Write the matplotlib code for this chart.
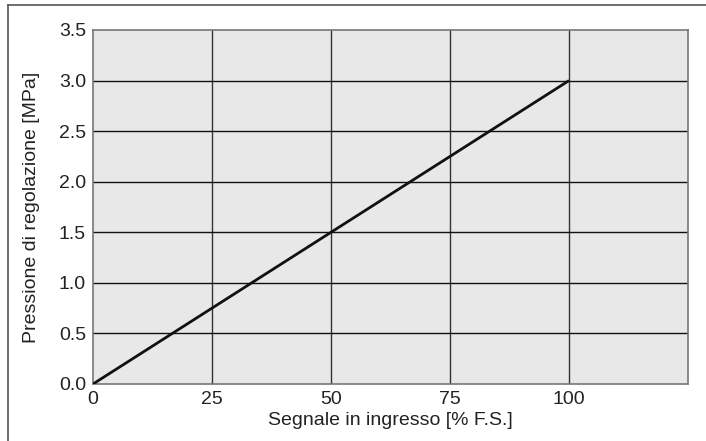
import matplotlib
matplotlib.use("Agg")
import matplotlib.pyplot as plt
from matplotlib.lines import Line2D

plt.rcParams['font.family'] = ['Liberation Sans', 'DejaVu Sans']

signal = [0, 100]
pressure = [0.0, 3.0]
x_ticks = [0, 25, 50, 75, 100]
y_ticks = [0.0, 0.5, 1.0, 1.5, 2.0, 2.5, 3.0, 3.5]
x_label = "Segnale in ingresso [% F.S.]"
y_label = "Pressione di regolazione [MPa]"

fig = plt.figure(figsize=(7.06, 4.41), dpi=100)
ax = fig.add_axes([93/706, 57/441, (688-93)/706, (384-30)/441])
ax.set_facecolor('#e8e8e8')
ax.set_xlim(0, 125)
ax.set_ylim(0, 3.5)
ax.set_xticks(x_ticks)
ax.set_yticks(y_ticks)
ax.set_yticklabels([f"{v:.1f}" for v in y_ticks])
ax.tick_params(length=0, labelsize=14, colors='#222222')
ax.tick_params(axis='x', pad=5)
ax.tick_params(axis='y', pad=5)
for v in x_ticks[1:]:
    ax.axvline(v, color='#333333', lw=1.0, zorder=1)
for v in y_ticks[1:-1]:
    ax.axhline(v, color='#111111', lw=1.0, zorder=1)
for s in ax.spines.values():
    s.set_color('#777777')
    s.set_linewidth(1.2)
ax.plot(signal, pressure, color='#111111', lw=2.0, zorder=3, solid_capstyle='butt')
ax.set_xlabel(x_label, fontsize=14, color='#222222', labelpad=3)
ax.set_ylabel(y_label, fontsize=14, color='#222222', labelpad=13.5)

fig.add_artist(Line2D([8/706, 1], [1-5/441, 1-5/441], color='#555555', lw=1.2, transform=fig.transFigure))
fig.add_artist(Line2D([8/706, 8/706], [0, 1-5/441], color='#555555', lw=1.2, transform=fig.transFigure))

fig.savefig("out.png", dpi=100)
